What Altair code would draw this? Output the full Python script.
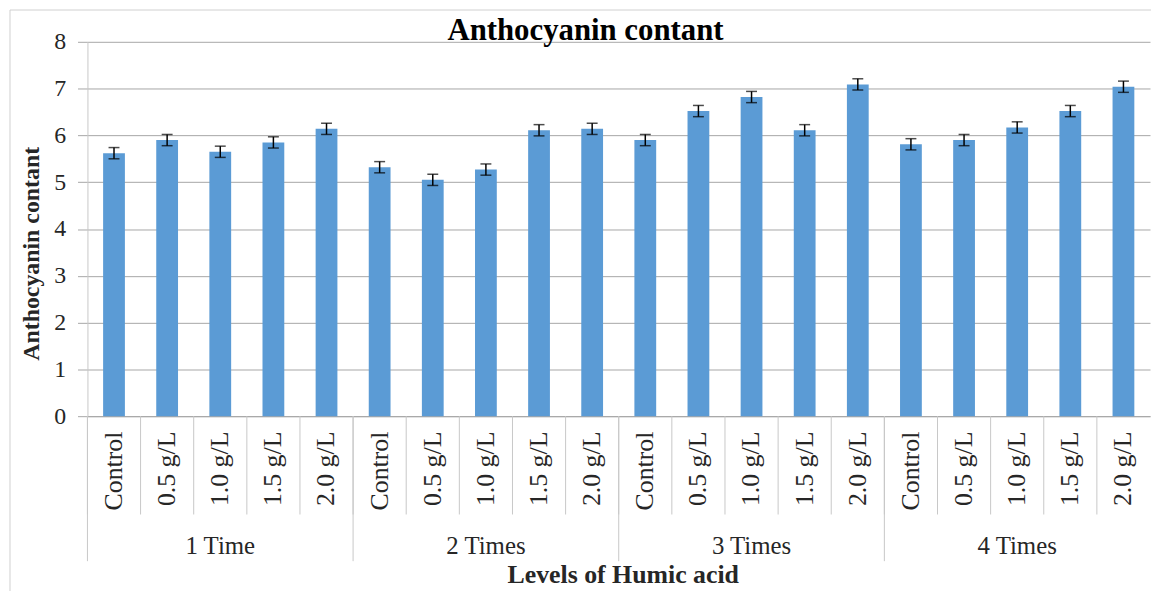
import altair as alt
import pandas as pd

# ---------------- data ----------------
groups = ["1 Time", "2 Times", "3 Times", "4 Times"]
doses = ["Control", "0.5 g/L", "1.0 g/L", "1.5 g/L", "2.0 g/L"]

values_1_time = [5.62, 5.90, 5.65, 5.85, 6.14]
values_2_times = [5.32, 5.05, 5.27, 6.11, 6.14]
values_3_times = [5.90, 6.52, 6.82, 6.11, 7.09]
values_4_times = [5.81, 5.90, 6.17, 6.52, 7.04]

errors_1_time = [0.12, 0.12, 0.12, 0.12, 0.12]
errors_2_times = [0.12, 0.12, 0.12, 0.12, 0.12]
errors_3_times = [0.12, 0.12, 0.12, 0.12, 0.12]
errors_4_times = [0.12, 0.12, 0.12, 0.12, 0.12]

y_ticks = [0, 1, 2, 3, 4, 5, 6, 7, 8]

chart_title = "Anthocyanin contant"
y_title = "Anthocyanin contant"
x_title = "Levels of Humic acid"

rows = []
for g, vals, errs in zip(
    groups,
    [values_1_time, values_2_times, values_3_times, values_4_times],
    [errors_1_time, errors_2_times, errors_3_times, errors_4_times],
):
    for d, v, e in zip(doses, vals, errs):
        rows.append({"group": g, "dose": d, "key": f"{g}|{d}", "value": v, "err": e})
df = pd.DataFrame(rows)
order = list(df["key"])

# ---------------- style ----------------
W, H = 1070, 377
FONT = "Liberation Serif"
TXT = "#262626"
GRID = "#a6a6a6"
SEP = "#c8c8c8"

x_scale = alt.Scale(paddingInner=0, paddingOuter=0)
x_axis = alt.Axis(
    title=x_title,
    labelExpr="split(datum.label, '|')[1]",
    labelAngle=270,
    labelAlign="right",
    labelBaseline="middle",
    labelPadding=15,
    labelOverlap=False,
    ticks=False,
    domainColor=GRID,
    labelFont=FONT,
    labelFontSize=26,
    labelColor=TXT,
    titleFont=FONT,
    titleFontSize=26,
    titleFontWeight="bold",
    titleColor=TXT,
    titleX=539,
    titleY=159,
    titleAlign="center",
    titleBaseline="middle",
)
y_scale = alt.Scale(domain=[0, 8], nice=False)
y_axis = alt.Axis(
    values=y_ticks,
    title=y_title,
    grid=True,
    gridColor=GRID,
    tickColor=GRID,
    tickSize=10,
    domainColor=SEP,
    labelFont=FONT,
    labelFontSize=24,
    labelPadding=12,
    labelColor=TXT,
    titleFont=FONT,
    titleFontSize=24,
    titleFontWeight="bold",
    titleColor=TXT,
    titleAngle=270,
    titleX=-56,
    titleY=213,
    titleAlign="center",
    titleBaseline="middle",
)

x_enc = alt.X("key:N", sort=order, scale=x_scale, axis=x_axis)

base = alt.Chart(df)

bars = base.mark_bar(color="#5b9bd5", width=alt.RelativeBandSize(0.41)).encode(
    x=x_enc,
    y=alt.Y("value:Q", scale=y_scale, axis=y_axis),
)

err = base.transform_calculate(
    lo="datum.value - datum.err", hi="datum.value + datum.err"
)
err_rule = err.mark_rule(color="black", strokeWidth=1.5).encode(
    x=x_enc,
    y=alt.Y("lo:Q", scale=y_scale, axis=y_axis),
    y2="hi:Q",
)
cap_lo = err.mark_tick(color="black", thickness=1.5, size=11).encode(
    x=x_enc, y=alt.Y("lo:Q", scale=y_scale, axis=y_axis)
)
cap_hi = err.mark_tick(color="black", thickness=1.5, size=11).encode(
    x=x_enc, y=alt.Y("hi:Q", scale=y_scale, axis=y_axis)
)

x_start = alt.X("key:N", sort=order, scale=x_scale, axis=x_axis, bandPosition=0)
sep_short = base.mark_rule(color=SEP, strokeWidth=1).encode(
    x=x_start, y=alt.value(H), y2=alt.value(H + 99)
)
sep_long = (
    base.transform_filter(alt.datum.dose == doses[0])
    .mark_rule(color=SEP, strokeWidth=1)
    .encode(x=x_start, y=alt.value(H), y2=alt.value(H + 146))
)

group_labels = (
    base.transform_filter(alt.datum.dose == doses[2])
    .mark_text(font=FONT, fontSize=25, color=TXT, baseline="middle")
    .encode(x=x_enc, y=alt.value(508), text="group:N")
)

title = (
    alt.Chart(pd.DataFrame({"t": [chart_title]}))
    .mark_text(font=FONT, fontSize=31, fontWeight="bold", color="black", baseline="alphabetic")
    .encode(x=alt.value(501.5), y=alt.value(-2), text="t:N")
)

border = (
    alt.Chart(pd.DataFrame({"b": [0]}))
    .mark_rect(fillOpacity=0, stroke="#d0d0d0", strokeWidth=1)
    .encode(x=alt.value(-78), x2=alt.value(1100), y=alt.value(-32), y2=alt.value(620))
)

chart = (
    alt.layer(border, bars, err_rule, cap_lo, cap_hi, sep_short, sep_long, group_labels, title)
    .properties(
        width=W,
        height=H,
        padding={"left": 80, "top": 32, "right": 1, "bottom": 174},
        autosize=alt.AutoSizeParams(type="none"),
        background="white",
    )
    .configure_view(stroke=None)
)

chart.save("out.html", embed_options={"renderer": "svg", "actions": False})
